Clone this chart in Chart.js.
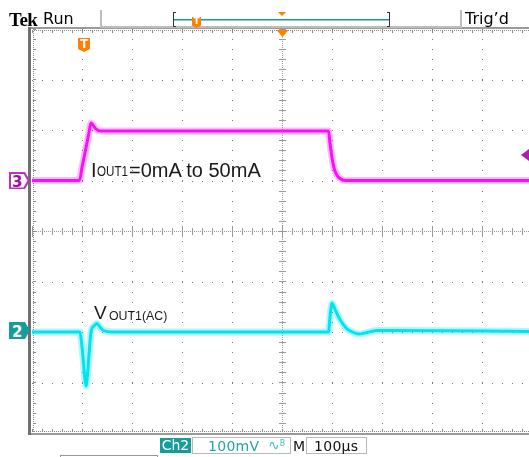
<!DOCTYPE html>
<html>
<head>
<meta charset="utf-8">
<script src="https://cdn.jsdelivr.net/npm/chart.js"></script>
<style>
  body { margin: 0; background: #fff; overflow: hidden; }
  #wrap { position: relative; width: 529px; height: 457px; overflow: hidden; }
  #scope { position: absolute; left: 0; top: 0; }
  .t { position: absolute; line-height: 1; white-space: nowrap; }
  .sans { font-family: "DejaVu Sans", sans-serif; }
  .arial { font-family: "Liberation Sans", Arial, sans-serif; color: #1a1a1a; }
  .sub { transform-origin: 0 0; }
  .mark { position: absolute; clip-path: polygon(0 0, 76% 0, 100% 50%, 76% 100%, 0 100%); }
  .shield { position: absolute; background: #ff7f00; color: #fff; font: bold 11px "DejaVu Sans", sans-serif;
            text-align: center; clip-path: polygon(0 0, 100% 0, 100% 78%, 50% 100%, 0 78%); }
  .box { position: absolute; border: 1px solid #b8b8b8; box-sizing: border-box; }
</style>
</head>
<body>
<div id="wrap">
  <canvas id="scope" width="560" height="457"></canvas>

  <!-- top status bar -->
  <div class="t" style="left:9px;top:9px;font:bold 19px 'Liberation Serif',serif;letter-spacing:-0.5px;">Tek</div>
  <div class="t sans" style="left:43px;top:11px;font-size:16px;">Run</div>
  <div class="t sans" style="left:465px;top:11px;font-size:16px;">Trig’d</div>
  <div class="shield" style="left:192px;top:17px;width:9px;height:11px;font-size:9px;line-height:9px;">T</div>

  <!-- channel ground markers and trigger marker, placed from the scales -->
  <div id="m3" class="mark" style="left:9px;width:21px;height:17px;background:#c030c0;">
    <div class="mark" style="left:1.5px;top:1.5px;width:17px;height:14px;background:#fff;"></div>
    <div class="t" style="left:3px;top:1px;font:bold 15px 'DejaVu Sans',sans-serif;color:#a010a0;">3</div>
  </div>
  <div id="m2" class="mark" style="left:9px;width:21px;height:17px;background:#169c9c;">
    <div class="t" style="left:3px;top:1px;font:bold 15px 'DejaVu Sans',sans-serif;color:#fff;">2</div>
  </div>
  <div id="mt" class="shield" style="top:38px;width:12px;height:14px;line-height:12px;font-size:12px;">T</div>

  <!-- annotations -->
  <div class="t arial" style="left:91px;top:160px;font-size:20px;">I</div>
  <div class="t arial sub" style="left:97px;top:164px;font-size:14px;transform:scaleX(0.83);">OUT1</div>
  <div class="t arial" style="left:129px;top:160px;font-size:20px;">=0mA to 50mA</div>
  <div class="t arial" style="left:94px;top:303px;font-size:19px;">V</div>
  <div class="t arial sub" style="left:109px;top:309px;font-size:13px;transform:scaleX(0.95);">OUT1(AC)</div>

  <!-- bottom readout -->
  <div class="t sans" style="left:160px;top:438px;width:31px;height:15px;background:#169c9c;color:#fff;font-size:14px;line-height:15px;text-align:center;">Ch2</div>
  <div class="box" style="left:192px;top:437px;width:99px;height:17px;"></div>
  <div class="t sans" style="left:208px;top:439px;font-size:14px;color:#22a6a6;letter-spacing:0.3px;">100mV</div>
  <div class="t sans" style="left:268px;top:438px;font-size:14px;color:#4cc0c0;">∿<span style="font-size:8px;vertical-align:4px;">B</span></div>
  <div class="t sans" style="left:293px;top:439px;font-size:14px;color:#111;">M</div>
  <div class="box" style="left:306px;top:437px;width:61px;height:17px;"></div>
  <div class="t sans" style="left:314px;top:439px;font-size:14px;color:#111;letter-spacing:0.3px;">100µs</div>
  <div class="box" style="left:60px;top:455px;width:98px;height:10px;border-color:#999;"></div>
</div>

<script>
// time in µs (100 µs/div), amplitude in screen divisions
const ch3Time = [0, 95, 100, 105, 110, 114, 118, 122, 127, 137, 593, 596, 600, 604, 609, 616, 627, 1000];
const ch3Div  = [1.0, 1.0, 1.26, 1.5, 1.75, 1.95, 2.14, 2.1, 2.03, 1.98, 1.98, 1.74, 1.45, 1.25, 1.12, 1.04, 1.0, 1.0];

const ch2Time = [0, 96, 99, 102, 105, 108, 111, 114, 118, 124, 130, 136, 143, 160,
                 593, 596, 600, 606, 613, 621, 630, 641, 653, 670, 690, 720, 1000];
const ch2Div  = [-2.0, -2.0, -2.2, -2.5, -2.85, -3.07, -2.85, -2.45, -2.0, -1.88, -1.83, -1.9, -1.97, -2.0,
                 -2.0, -1.7, -1.43, -1.55, -1.7, -1.83, -1.94, -2.0, -2.04, -2.01, -1.97, -1.97, -1.99];

const ch3Ground = 1;
const ch2Ground = -2;
const trigTime = 104;
const trigLevel = 1.5;

const pts = (ts, vs) => ts.map((t, i) => ({ x: t, y: vs[i] }));

const scopePlugin = {
  id: "scope",
  beforeDatasetsDraw(chart) {
    const { ctx, chartArea: a, scales: { x, y } } = chart;
    const X = (v) => Math.round(x.getPixelForValue(v));
    const Y = (v) => Math.round(y.getPixelForValue(v));
    ctx.save();
    ctx.fillStyle = "#7a7a7a";
    // dotted division lines
    for (let m = 100; m < 1000; m += 100) {
      if (m === 500) continue;
      for (let v = -4; v <= 4.001; v += 0.2) ctx.fillRect(X(m), Y(v), 1, 1);
    }
    for (let d = -3; d <= 3; d++) {
      if (d === 0) continue;
      for (let t = 0; t <= 1000; t += 20) ctx.fillRect(X(t), Y(d), 1, 1);
    }
    // centre cross with tick marks
    ctx.fillStyle = "#999";
    const cx = X(500), cy = Y(0);
    for (let p = a.top; p < a.bottom; p += 2) ctx.fillRect(cx, p, 1, 1);
    for (let p = a.left; p < a.right; p += 2) ctx.fillRect(p, cy, 1, 1);
    for (let v = -4; v <= 4.001; v += 0.2) ctx.fillRect(cx - 3, Y(v), 7, 1);
    for (let t = 0; t <= 1000; t += 20) {
      if (t % 100 === 0) ctx.fillRect(X(t), cy - 5, 1, 11);
      else ctx.fillRect(X(t), cy - 3, 1, 7);
    }
    // edge ticks
    ctx.fillStyle = "#888";
    for (let p = a.left; p < a.right; p += 2) {
      ctx.fillRect(p, a.top + 1, 1, 1);
      ctx.fillRect(p, a.bottom - 2, 1, 1);
    }
    for (let t = 0; t <= 1000; t += 20) {
      ctx.fillRect(X(t), a.top + 1, 1, 3);
      ctx.fillRect(X(t), a.bottom - 4, 1, 3);
    }
    for (let p = a.top; p < a.bottom; p += 2) ctx.fillRect(a.left + 1, p, 1, 1);
    for (let v = -4; v <= 4.001; v += 0.2) ctx.fillRect(a.left + 1, Y(v), 3, 1);
    ctx.restore();
  },
  afterDatasetsDraw(chart) {
    const { ctx, chartArea: a, scales: { x, y } } = chart;
    const X = (v) => Math.round(x.getPixelForValue(v));
    const Y = (v) => Math.round(y.getPixelForValue(v));
    ctx.save();
    // frame
    ctx.fillStyle = "#9a9a9a";
    ctx.fillRect(a.left - 3, a.top - 2, a.right - a.left + 3, 2);
    ctx.fillRect(a.left - 3, a.bottom, a.right - a.left + 3, 2);
    ctx.fillStyle = "#707070";
    ctx.fillRect(a.left - 4, a.top - 2, 3, a.bottom - a.top + 4);
    // horizontal position marker
    ctx.fillStyle = "#ff7f00";
    const cx = X(500);
    ctx.beginPath();
    ctx.moveTo(cx - 5.5, a.top + 1); ctx.lineTo(cx + 6.5, a.top + 1); ctx.lineTo(cx + 0.5, a.top + 8);
    ctx.closePath(); ctx.fill();
    // trigger level arrow
    ctx.fillStyle = "#b01cb0";
    const ty = Y(trigLevel);
    ctx.beginPath();
    ctx.moveTo(521, ty); ctx.lineTo(529, ty - 6); ctx.lineTo(529, ty + 6);
    ctx.closePath(); ctx.fill();
    // record-length bar in the status line
    ctx.fillStyle = "#bdbdbd";
    ctx.fillRect(100, 10, 2, 18);
    ctx.fillRect(100, 26, 362, 2);
    ctx.fillRect(460, 10, 2, 18);
    ctx.fillStyle = "#333";
    ctx.fillRect(173, 12, 1, 15); ctx.fillRect(173, 12, 3, 1); ctx.fillRect(173, 26, 3, 1);
    ctx.fillRect(389, 12, 1, 15); ctx.fillRect(387, 12, 3, 1); ctx.fillRect(387, 26, 3, 1);
    ctx.fillStyle = "#1a9a9a";
    ctx.fillRect(174, 19, 215, 1.5);
    ctx.fillStyle = "#ff7f00";
    ctx.beginPath();
    ctx.moveTo(278, 12); ctx.lineTo(286, 12); ctx.lineTo(282, 16);
    ctx.closePath(); ctx.fill();
    ctx.restore();
  },
};

const chart = new Chart(document.getElementById("scope"), {
  type: "line",
  data: {
    datasets: [
      { data: pts(ch3Time, ch3Div), borderColor: "rgba(255,40,255,0.3)", borderWidth: 7 },
      { data: pts(ch3Time, ch3Div), borderColor: "#ff00ff", borderWidth: 3 },
      { data: pts(ch2Time, ch2Div), borderColor: "rgba(0,225,240,0.3)", borderWidth: 7 },
      { data: pts(ch2Time, ch2Div), borderColor: "#00e4f2", borderWidth: 3 },
    ],
  },
  options: {
    responsive: false,
    animation: false,
    layout: { padding: { left: 32, right: 28, top: 29, bottom: 24 } },
    scales: {
      x: { type: "linear", min: 0, max: 1000, display: false },
      y: { type: "linear", min: -4, max: 4, display: false },
    },
    elements: { point: { radius: 0 }, line: { tension: 0, cubicInterpolationMode: "monotone" } },
    plugins: { legend: { display: false }, tooltip: { enabled: false } },
  },
  plugins: [scopePlugin],
});

// put the overlay markers at the scale positions
const ys = chart.scales.y, xs = chart.scales.x;
document.getElementById("m3").style.top = Math.round(ys.getPixelForValue(ch3Ground) - 9) + "px";
document.getElementById("m2").style.top = Math.round(ys.getPixelForValue(ch2Ground) - 10) + "px";
document.getElementById("mt").style.left = Math.round(xs.getPixelForValue(trigTime) - 6) + "px";
</script>
</body>
</html>
